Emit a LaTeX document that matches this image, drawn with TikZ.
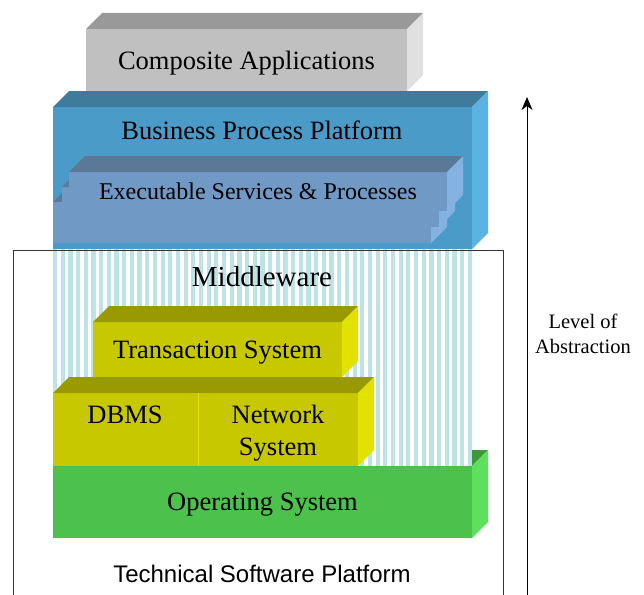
\documentclass[tikz,border=0pt]{standalone}
\usepackage{fontspec}
\setmainfont{Liberation Serif}
\newfontfamily\tspfont{Liberation Sans}
\usetikzlibrary{arrows.meta}

\definecolor{caTop}{HTML}{999999}
\definecolor{caFront}{HTML}{C0C0C0}
\definecolor{caSide}{HTML}{E0E0E0}
\definecolor{bppTop}{HTML}{3F7C9C}
\definecolor{bppFront}{HTML}{4A9BC7}
\definecolor{bppSide}{HTML}{5AB3E3}
\definecolor{espTop}{HTML}{5B7896}
\definecolor{espFront}{HTML}{7199C6}
\definecolor{espSide}{HTML}{84B3E2}
\definecolor{ylwTop}{HTML}{999900}
\definecolor{ylwFront}{HTML}{C8C800}
\definecolor{ylwSide}{HTML}{E2E200}
\definecolor{osTop}{HTML}{3C9A3C}
\definecolor{osFront}{HTML}{4CC24C}
\definecolor{osSide}{HTML}{5EE05E}
\definecolor{stripe}{HTML}{BDE3E8}

% top and right faces of a slab, drawn from the anchors of its front face
\newcommand{\slabfaces}[3]{%
  \fill[#2] (#1.north west) -- ++(16,-16) -- ([shift={(16,-16)}]#1.north east) -- (#1.north east) -- cycle;
  \fill[#3] (#1.north east) -- ++(16,-16) -- ([shift={(16,-16)}]#1.south east) -- (#1.south east) -- cycle;
}

\begin{document}
\begin{tikzpicture}[x=1pt,y=-1pt,
    face/.style={anchor=north west,inner sep=0pt,outer sep=0pt,text depth=0pt,font=\fontsize{26.5}{30}\selectfont},
    lbl/.style={inner sep=0pt,text depth=0pt,font=\fontsize{26.5}{30}\selectfont}
  ]
  \useasboundingbox (0,0) rectangle (644,594);

  % operating system, its top face is hidden by the middleware layer
  \node[face,fill=osFront,minimum width=419pt,minimum height=72pt] (os) at (53,466) {Operating System};
  \slabfaces{os}{osTop}{osSide}

  % middleware
  \fill[white] (53,249) rectangle (472,466);
  \foreach \x in {53,60.68,...,469}
    \fill[stripe] (\x,249) rectangle ++(4.2,217);
  \node[lbl,font=\fontsize{29}{32}\selectfont] (mw) at (262,276) {Middleware};

  % dbms and network system
  \node[face,fill=ylwFront,minimum width=145pt,minimum height=73pt] (dbms) at (53,393) {};
  \node[face,fill=ylwFront,minimum width=160pt,minimum height=73pt] (net) at (198,393) {};
  \fill[ylwTop] (dbms.north west) -- ++(16,-16) -- ([shift={(16,-16)}]net.north east) -- (net.north east) -- cycle;
  \fill[ylwSide] (net.north east) -- ++(16,-16) -- ([shift={(16,-16)}]net.south east) -- (net.south east) -- cycle;
  \draw[ylwSide,line width=1pt] (net.north west) -- (net.south west);
  \node[lbl] (dbmstxt) at (125,415) {DBMS};
  \node[lbl,align=center,font=\fontsize{26.5}{32}\selectfont,anchor=north] (nettxt) at (278,405) {Network\\System};

  % transaction system
  \node[face,fill=ylwFront,minimum width=249pt,minimum height=55pt] (ts) at (93,322) {Transaction System};
  \slabfaces{ts}{ylwTop}{ylwSide}

  % business process platform
  \node[face,fill=bppFront,minimum width=419pt,minimum height=142pt] (bpp) at (53,107) {};
  \slabfaces{bpp}{bppTop}{bppSide}
  \node[lbl] (bpptxt) at (262,130) {Business Process Platform};

  % executable services, three plates
  \node[face,fill=espFront,minimum width=378pt,minimum height=41pt] (espc) at (53,202) {};
  \slabfaces{espc}{espTop}{espSide}
  \node[face,fill=espFront,minimum width=377pt,minimum height=40pt] (espb) at (62,187) {};
  \slabfaces{espb}{espTop}{espSide}
  \node[face,fill=espFront,minimum width=378pt,minimum height=39pt,font=\fontsize{24}{28}\selectfont] (espa) at (69,172) {Executable Services \& Processes};
  \slabfaces{espa}{espTop}{espSide}

  % composite applications
  \node[face,fill=caFront,minimum width=321pt,minimum height=62pt] (ca) at (86,29) {Composite Applications};
  \slabfaces{ca}{caTop}{caSide}

  % technical software platform
  \node[draw=black!80,line width=0.8pt,anchor=north west,inner sep=0pt,minimum width=490pt,minimum height=360pt] (tsp) at (13,250) {};
  \node[lbl,font=\tspfont\fontsize{24}{28}\selectfont] (tsptxt) at (262,574) {Technical Software Platform};

  % level of abstraction
  \coordinate (absLow) at (527,596);
  \coordinate (absHigh) at (527,97);
  \draw[line width=1pt,-{Stealth[length=13pt,width=11pt,inset=4pt]}] (absLow) -- (absHigh);
  \node[lbl,align=center,font=\fontsize{20.5}{25}\selectfont] (abs) at (583,334) {Level of\\Abstraction};
\end{tikzpicture}
\end{document}
